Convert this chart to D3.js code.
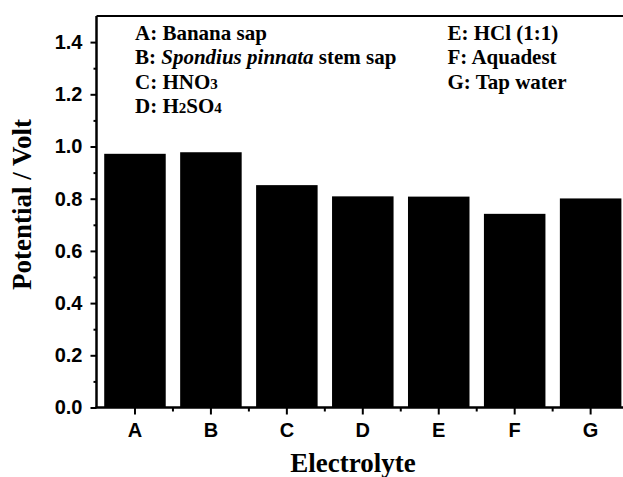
<!DOCTYPE html>
<html>
<head>
<meta charset="utf-8">
<script src="https://cdn.jsdelivr.net/npm/d3@7"></script>
<style>
  html, body { margin: 0; padding: 0; background: #fff; }
  svg { display: block; }
</style>
</head>
<body>
<svg id="chart" width="623" height="477"></svg>
<script>
const categories = ["A", "B", "C", "D", "E", "F", "G"];
const potentials = [0.972, 0.978, 0.852, 0.809, 0.808, 0.742, 0.801];
const yTicks = [0.0, 0.2, 0.4, 0.6, 0.8, 1.0, 1.2, 1.4];
const yMinorTicks = [0.1, 0.3, 0.5, 0.7, 0.9, 1.1, 1.3];
const legendLeft = [
  [{t: "A: Banana sap"}],
  [{t: "B: "}, {t: "Spondius pinnata", i: true}, {t: " stem sap"}],
  [{t: "C: HNO"}, {t: "3", s: true}],
  [{t: "D: H"}, {t: "2", s: true}, {t: "SO"}, {t: "4", s: true}]
];
const legendRight = [
  [{t: "E: HCl (1:1)"}],
  [{t: "F: Aquadest"}],
  [{t: "G: Tap water"}]
];

(function () {
const svg = d3.select("#chart");
const serif = "'Liberation Serif', 'Times New Roman', Times, serif";
const sans = "'Liberation Sans', Arial, Helvetica, sans-serif";
const plotLeft = 96.5, plotTop = 16, plotBottom = 407.5;
const x = d3.scaleBand().domain(categories).range([97, 628.6]).paddingInner(0.19).paddingOuter(0.095);
const y = d3.scaleLinear().domain([0, 1.5]).range([plotBottom, plotTop]);

// bars
svg.append("g").selectAll("rect").data(categories).join("rect")
  .attr("x", d => x(d))
  .attr("width", x.bandwidth())
  .attr("y", (d, i) => y(potentials[i]))
  .attr("height", (d, i) => y(0) - y(potentials[i]))
  .attr("fill", "#000");

// top frame line
svg.append("line").attr("x1", plotLeft).attr("x2", 640).attr("y1", plotTop).attr("y2", plotTop)
  .attr("stroke", "#000").attr("stroke-width", 2.2);

// y axis
const yAxis = svg.append("g").attr("transform", `translate(${plotLeft},0)`)
  .call(d3.axisLeft(y).tickValues(yTicks).tickFormat(d3.format(".1f")).tickSize(6).tickPadding(8));
yAxis.select(".domain").attr("d", `M0,${plotTop}V${plotBottom}`).attr("stroke-width", 2.5);
yAxis.selectAll(".tick line").attr("stroke-width", 2);
yAxis.selectAll(".tick text")
  .attr("font-family", sans)
  .attr("font-weight", "bold").attr("font-size", 20).attr("fill", "#000");
svg.append("g").attr("transform", `translate(${plotLeft},0)`)
  .call(d3.axisLeft(y).tickValues(yMinorTicks).tickFormat("").tickSize(3))
  .call(g => g.select(".domain").remove())
  .selectAll(".tick line").attr("stroke-width", 2);

// x axis
const xAxis = svg.append("g").attr("transform", `translate(0,${plotBottom})`)
  .call(d3.axisBottom(x).tickSize(7).tickPadding(8));
xAxis.select(".domain").attr("d", `M${plotLeft - 1},0H640`).attr("stroke-width", 2.5);
xAxis.selectAll(".tick line").attr("stroke-width", 2);
xAxis.selectAll(".tick text")
  .attr("font-family", sans)
  .attr("font-weight", "bold").attr("font-size", 20).attr("fill", "#000");
const boundaries = categories.slice(1).map(c => x(c) - x.step() * x.paddingInner() / 2);
svg.append("g").selectAll("line").data(boundaries).join("line")
  .attr("x1", d => d).attr("x2", d => d)
  .attr("y1", plotBottom).attr("y2", plotBottom + 4)
  .attr("stroke", "#000").attr("stroke-width", 2);

// axis titles
svg.append("text").attr("x", 353).attr("y", 472).attr("text-anchor", "middle")
  .attr("font-family", serif)
  .attr("font-weight", "bold").attr("font-size", 27).attr("fill", "#000")
  .text("Electrolyte");
svg.append("text").attr("transform", "translate(31,204.5) rotate(-90)").attr("text-anchor", "middle")
  .attr("font-family", serif)
  .attr("font-weight", "bold").attr("font-size", 27).attr("fill", "#000")
  .text("Potential / Volt");

// legend
function drawLegend(items, x0, y0, dy) {
  items.forEach((parts, i) => {
    const t = svg.append("text").attr("x", x0).attr("y", y0 + i * dy)
      .attr("font-family", serif)
      .attr("font-weight", "bold").attr("font-size", 21).attr("fill", "#000");
    parts.forEach(p => {
      const ts = t.append("tspan").text(p.t);
      if (p.i) ts.attr("font-style", "italic");
      if (p.s) ts.attr("font-size", 15);
    });
  });
}
drawLegend(legendLeft, 135, 39.5, 24.5);
drawLegend(legendRight, 447.5, 39.5, 24.5);
})();
</script>
</body>
</html>
